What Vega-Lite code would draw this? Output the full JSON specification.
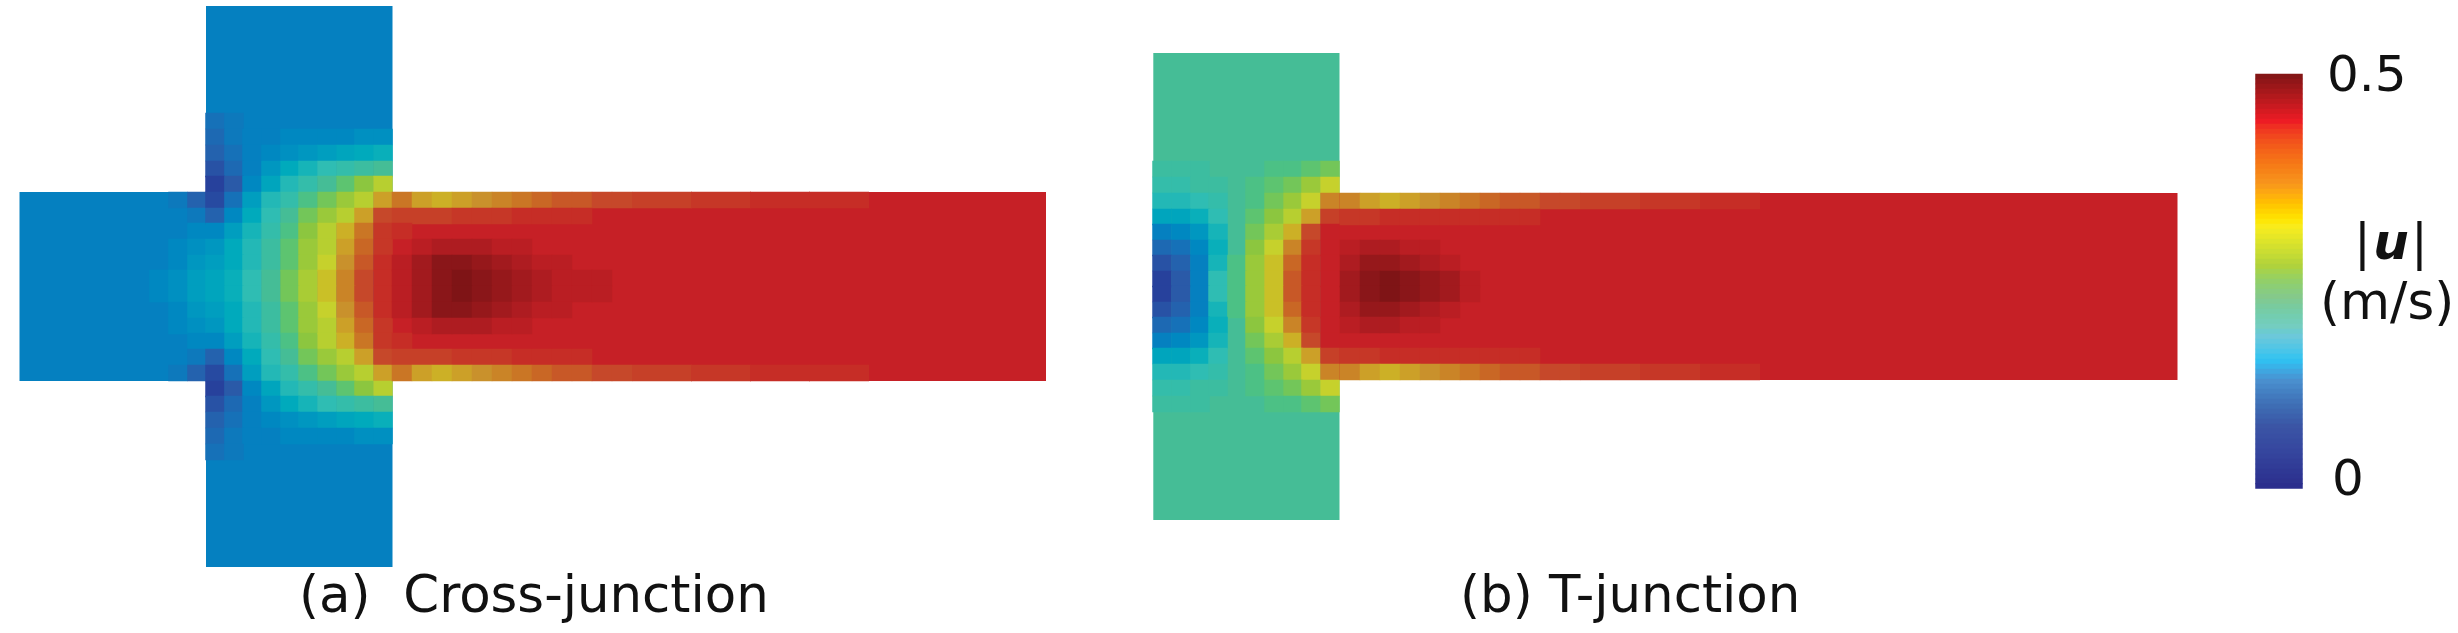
{"$schema":"https://vega.github.io/schema/vega-lite/v6.json","width":2458,"height":633,"padding":0,"autosize":{"type":"none"},"background":"white","config":{"view":{"stroke":null}},
"datasets":{
"base":[{"x":206,"x2":392.5,"y":6,"y2":567,"v":10},{"x":19.5,"x2":206.5,"y":192,"y2":381,"v":10},{"x":392,"x2":1046,"y":192,"y2":381,"v":44},{"x":1153.3,"x2":1339.5,"y":53,"y2":520,"v":23},{"x":1339,"x2":2177.5,"y":193,"y2":380,"v":44}],
"j":[
{"x":178,"y":200,"v":9},{"x":197,"y":200,"v":6},
{"x":197,"y":216,"v":9},{"x":197,"y":231,"v":11},{"x":178,"y":247,"v":11},{"x":197,"y":247,"v":12},{"x":178,"y":263,"v":11},{"x":197,"y":263,"v":13},{"x":159,"y":278,"v":11},{"x":178,"y":278,"v":12},{"x":197,"y":278,"v":14},
{"x":159,"y":294,"v":11},{"x":178,"y":294,"v":12},{"x":197,"y":294,"v":14},{"x":178,"y":310,"v":11},{"x":197,"y":310,"v":13},{"x":178,"y":326,"v":11},{"x":197,"y":326,"v":12},{"x":197,"y":341,"v":11},{"x":197,"y":357,"v":9},{"x":178,"y":373,"v":9},{"x":197,"y":373,"v":6},
{"x":215,"y":121,"v":8},{"x":234,"y":121,"v":9},
{"x":215,"y":137,"v":7},{"x":234,"y":137,"v":9},{"x":252,"y":137,"v":10},{"x":271,"y":137,"v":10},{"x":290,"y":137,"v":11},{"x":308,"y":137,"v":11},{"x":327,"y":137,"v":11},{"x":346,"y":137,"v":11},{"x":364,"y":137,"v":12},{"x":383,"y":137,"v":12},
{"x":215,"y":153,"v":6},{"x":234,"y":153,"v":8},{"x":252,"y":153,"v":10},{"x":271,"y":153,"v":11},{"x":290,"y":153,"v":12},{"x":308,"y":153,"v":13},{"x":327,"y":153,"v":14},{"x":346,"y":153,"v":15},{"x":364,"y":153,"v":16},{"x":383,"y":153,"v":17},
{"x":215,"y":169,"v":4},{"x":234,"y":169,"v":7},{"x":252,"y":169,"v":10},{"x":271,"y":169,"v":13},{"x":290,"y":169,"v":16},{"x":308,"y":169,"v":18},{"x":327,"y":169,"v":20},{"x":346,"y":169,"v":21},{"x":364,"y":169,"v":22},{"x":383,"y":169,"v":23},
{"x":215,"y":184,"v":2},{"x":234,"y":184,"v":5},{"x":252,"y":184,"v":11},{"x":271,"y":184,"v":15},{"x":290,"y":184,"v":19},{"x":308,"y":184,"v":21},{"x":327,"y":184,"v":23},{"x":346,"y":184,"v":25},{"x":364,"y":184,"v":27},{"x":383,"y":184,"v":30},
{"x":215,"y":200,"v":3},{"x":234,"y":200,"v":8},{"x":252,"y":200,"v":14},{"x":271,"y":200,"v":19},{"x":290,"y":200,"v":21},{"x":308,"y":200,"v":24},{"x":327,"y":200,"v":26},{"x":346,"y":200,"v":28},{"x":364,"y":200,"v":30},{"x":383,"y":200,"v":34},
{"x":215,"y":216,"v":6},{"x":234,"y":216,"v":11},{"x":252,"y":216,"v":16},{"x":271,"y":216,"v":20},{"x":290,"y":216,"v":23},{"x":308,"y":216,"v":26},{"x":327,"y":216,"v":28},{"x":346,"y":216,"v":30},{"x":364,"y":216,"v":34},{"x":383,"y":216,"v":40},
{"x":215,"y":231,"v":11},{"x":234,"y":231,"v":14},{"x":252,"y":231,"v":18},{"x":271,"y":231,"v":21},{"x":290,"y":231,"v":24},{"x":308,"y":231,"v":27},{"x":327,"y":231,"v":30},{"x":346,"y":231,"v":33},{"x":364,"y":231,"v":37},{"x":383,"y":231,"v":42},
{"x":215,"y":247,"v":13},{"x":234,"y":247,"v":16},{"x":252,"y":247,"v":19},{"x":271,"y":247,"v":22},{"x":290,"y":247,"v":25},{"x":308,"y":247,"v":28},{"x":327,"y":247,"v":30},{"x":346,"y":247,"v":34},{"x":364,"y":247,"v":38},{"x":383,"y":247,"v":42},
{"x":215,"y":263,"v":14},{"x":234,"y":263,"v":16},{"x":252,"y":263,"v":19},{"x":271,"y":263,"v":22},{"x":290,"y":263,"v":25},{"x":308,"y":263,"v":28},{"x":327,"y":263,"v":31},{"x":346,"y":263,"v":35},{"x":364,"y":263,"v":39},{"x":383,"y":263,"v":43},
{"x":215,"y":278,"v":15},{"x":234,"y":278,"v":17},{"x":252,"y":278,"v":20},{"x":271,"y":278,"v":23},{"x":290,"y":278,"v":26},{"x":308,"y":278,"v":29},{"x":327,"y":278,"v":32},{"x":346,"y":278,"v":36},{"x":364,"y":278,"v":40},{"x":383,"y":278,"v":43},
{"x":215,"y":294,"v":15},{"x":234,"y":294,"v":17},{"x":252,"y":294,"v":20},{"x":271,"y":294,"v":23},{"x":290,"y":294,"v":26},{"x":308,"y":294,"v":29},{"x":327,"y":294,"v":32},{"x":346,"y":294,"v":36},{"x":364,"y":294,"v":40},{"x":383,"y":294,"v":43},
{"x":215,"y":310,"v":14},{"x":234,"y":310,"v":16},{"x":252,"y":310,"v":19},{"x":271,"y":310,"v":22},{"x":290,"y":310,"v":25},{"x":308,"y":310,"v":28},{"x":327,"y":310,"v":31},{"x":346,"y":310,"v":35},{"x":364,"y":310,"v":39},{"x":383,"y":310,"v":43},
{"x":215,"y":326,"v":13},{"x":234,"y":326,"v":16},{"x":252,"y":326,"v":19},{"x":271,"y":326,"v":22},{"x":290,"y":326,"v":25},{"x":308,"y":326,"v":28},{"x":327,"y":326,"v":30},{"x":346,"y":326,"v":34},{"x":364,"y":326,"v":38},{"x":383,"y":326,"v":42},
{"x":215,"y":341,"v":11},{"x":234,"y":341,"v":14},{"x":252,"y":341,"v":18},{"x":271,"y":341,"v":21},{"x":290,"y":341,"v":24},{"x":308,"y":341,"v":27},{"x":327,"y":341,"v":30},{"x":346,"y":341,"v":33},{"x":364,"y":341,"v":37},{"x":383,"y":341,"v":42},
{"x":215,"y":357,"v":6},{"x":234,"y":357,"v":11},{"x":252,"y":357,"v":16},{"x":271,"y":357,"v":20},{"x":290,"y":357,"v":23},{"x":308,"y":357,"v":26},{"x":327,"y":357,"v":28},{"x":346,"y":357,"v":30},{"x":364,"y":357,"v":34},{"x":383,"y":357,"v":40},
{"x":215,"y":373,"v":3},{"x":234,"y":373,"v":8},{"x":252,"y":373,"v":14},{"x":271,"y":373,"v":19},{"x":290,"y":373,"v":21},{"x":308,"y":373,"v":24},{"x":327,"y":373,"v":26},{"x":346,"y":373,"v":28},{"x":364,"y":373,"v":30},{"x":383,"y":373,"v":34},
{"x":215,"y":389,"v":2},{"x":234,"y":389,"v":5},{"x":252,"y":389,"v":11},{"x":271,"y":389,"v":15},{"x":290,"y":389,"v":19},{"x":308,"y":389,"v":21},{"x":327,"y":389,"v":23},{"x":346,"y":389,"v":25},{"x":364,"y":389,"v":27},{"x":383,"y":389,"v":30},
{"x":215,"y":404,"v":4},{"x":234,"y":404,"v":7},{"x":252,"y":404,"v":10},{"x":271,"y":404,"v":13},{"x":290,"y":404,"v":16},{"x":308,"y":404,"v":18},{"x":327,"y":404,"v":20},{"x":346,"y":404,"v":21},{"x":364,"y":404,"v":22},{"x":383,"y":404,"v":23},
{"x":215,"y":420,"v":6},{"x":234,"y":420,"v":8},{"x":252,"y":420,"v":10},{"x":271,"y":420,"v":11},{"x":290,"y":420,"v":12},{"x":308,"y":420,"v":13},{"x":327,"y":420,"v":14},{"x":346,"y":420,"v":15},{"x":364,"y":420,"v":16},{"x":383,"y":420,"v":17},
{"x":215,"y":436,"v":7},{"x":234,"y":436,"v":9},{"x":252,"y":436,"v":10},{"x":271,"y":436,"v":10},{"x":290,"y":436,"v":11},{"x":308,"y":436,"v":11},{"x":327,"y":436,"v":11},{"x":346,"y":436,"v":11},{"x":364,"y":436,"v":12},{"x":383,"y":436,"v":12},
{"x":215,"y":452,"v":8},{"x":234,"y":452,"v":9},
{"x":1162,"y":169,"v":22},{"x":1181,"y":169,"v":22},{"x":1200,"y":169,"v":22},{"x":1274,"y":169,"v":24},{"x":1293,"y":169,"v":24},{"x":1311,"y":169,"v":25},{"x":1330,"y":169,"v":26},
{"x":1162,"y":185,"v":21},{"x":1181,"y":185,"v":21},{"x":1200,"y":185,"v":22},{"x":1218,"y":185,"v":22},{"x":1255,"y":185,"v":24},{"x":1274,"y":185,"v":25},{"x":1293,"y":185,"v":26},{"x":1311,"y":185,"v":28},{"x":1330,"y":185,"v":31},
{"x":1162,"y":201,"v":19},{"x":1181,"y":201,"v":19},{"x":1200,"y":201,"v":20},{"x":1218,"y":201,"v":21},{"x":1255,"y":201,"v":24},{"x":1274,"y":201,"v":26},{"x":1293,"y":201,"v":28},{"x":1311,"y":201,"v":31},{"x":1330,"y":201,"v":36},
{"x":1162,"y":217,"v":15},{"x":1181,"y":217,"v":15},{"x":1200,"y":217,"v":17},{"x":1218,"y":217,"v":20},{"x":1255,"y":217,"v":25},{"x":1274,"y":217,"v":27},{"x":1293,"y":217,"v":30},{"x":1311,"y":217,"v":34},{"x":1330,"y":217,"v":41},
{"x":1162,"y":232,"v":10},{"x":1181,"y":232,"v":11},{"x":1200,"y":232,"v":13},{"x":1218,"y":232,"v":18},{"x":1255,"y":232,"v":26},{"x":1274,"y":232,"v":29},{"x":1293,"y":232,"v":33},{"x":1311,"y":232,"v":40},{"x":1330,"y":232,"v":44},
{"x":1162,"y":248,"v":7},{"x":1181,"y":248,"v":8},{"x":1200,"y":248,"v":11},{"x":1218,"y":248,"v":17},{"x":1255,"y":248,"v":27},{"x":1274,"y":248,"v":31},{"x":1293,"y":248,"v":36},{"x":1311,"y":248,"v":42},{"x":1330,"y":248,"v":44},
{"x":1162,"y":263,"v":4},{"x":1181,"y":263,"v":6},{"x":1200,"y":263,"v":10},{"x":1218,"y":263,"v":18},{"x":1237,"y":263,"v":24},{"x":1255,"y":263,"v":28},{"x":1274,"y":263,"v":32},{"x":1293,"y":263,"v":38},{"x":1311,"y":263,"v":43},{"x":1330,"y":263,"v":44},
{"x":1162,"y":279,"v":2},{"x":1181,"y":279,"v":5},{"x":1200,"y":279,"v":10},{"x":1218,"y":279,"v":20},{"x":1237,"y":279,"v":24},{"x":1255,"y":279,"v":28},{"x":1274,"y":279,"v":32},{"x":1293,"y":279,"v":39},{"x":1311,"y":279,"v":43},{"x":1330,"y":279,"v":44},
{"x":1162,"y":294,"v":2},{"x":1181,"y":294,"v":5},{"x":1200,"y":294,"v":10},{"x":1218,"y":294,"v":20},{"x":1237,"y":294,"v":24},{"x":1255,"y":294,"v":28},{"x":1274,"y":294,"v":32},{"x":1293,"y":294,"v":39},{"x":1311,"y":294,"v":43},{"x":1330,"y":294,"v":44},
{"x":1162,"y":310,"v":4},{"x":1181,"y":310,"v":6},{"x":1200,"y":310,"v":10},{"x":1218,"y":310,"v":18},{"x":1237,"y":310,"v":24},{"x":1255,"y":310,"v":28},{"x":1274,"y":310,"v":32},{"x":1293,"y":310,"v":38},{"x":1311,"y":310,"v":43},{"x":1330,"y":310,"v":44},
{"x":1162,"y":325,"v":7},{"x":1181,"y":325,"v":8},{"x":1200,"y":325,"v":11},{"x":1218,"y":325,"v":17},{"x":1255,"y":325,"v":27},{"x":1274,"y":325,"v":31},{"x":1293,"y":325,"v":36},{"x":1311,"y":325,"v":42},{"x":1330,"y":325,"v":44},
{"x":1162,"y":341,"v":10},{"x":1181,"y":341,"v":11},{"x":1200,"y":341,"v":13},{"x":1218,"y":341,"v":18},{"x":1255,"y":341,"v":26},{"x":1274,"y":341,"v":29},{"x":1293,"y":341,"v":33},{"x":1311,"y":341,"v":40},{"x":1330,"y":341,"v":44},
{"x":1162,"y":356,"v":15},{"x":1181,"y":356,"v":15},{"x":1200,"y":356,"v":17},{"x":1218,"y":356,"v":20},{"x":1255,"y":356,"v":25},{"x":1274,"y":356,"v":27},{"x":1293,"y":356,"v":30},{"x":1311,"y":356,"v":34},{"x":1330,"y":356,"v":41},
{"x":1162,"y":372,"v":19},{"x":1181,"y":372,"v":19},{"x":1200,"y":372,"v":20},{"x":1218,"y":372,"v":21},{"x":1255,"y":372,"v":24},{"x":1274,"y":372,"v":26},{"x":1293,"y":372,"v":28},{"x":1311,"y":372,"v":31},{"x":1330,"y":372,"v":36},
{"x":1162,"y":388,"v":21},{"x":1181,"y":388,"v":21},{"x":1200,"y":388,"v":22},{"x":1218,"y":388,"v":22},{"x":1255,"y":388,"v":24},{"x":1274,"y":388,"v":25},{"x":1293,"y":388,"v":26},{"x":1311,"y":388,"v":28},{"x":1330,"y":388,"v":31},
{"x":1162,"y":404,"v":22},{"x":1181,"y":404,"v":22},{"x":1200,"y":404,"v":22},{"x":1274,"y":404,"v":24},{"x":1293,"y":404,"v":24},{"x":1311,"y":404,"v":25},{"x":1330,"y":404,"v":26}
],
"c":[
{"x":402,"y":200,"v":37},{"x":422,"y":200,"v":34},{"x":442,"y":200,"v":33},{"x":462,"y":200,"v":34},{"x":482,"y":200,"v":35},{"x":502,"y":200,"v":36},{"x":522,"y":200,"v":37},{"x":542,"y":200,"v":38},{"x":562,"y":200,"v":39},{"x":582,"y":200,"v":39},{"x":602,"y":200,"v":40},{"x":622,"y":200,"v":40},
{"x":402,"y":216,"v":41},{"x":422,"y":216,"v":41},{"x":442,"y":216,"v":41},{"x":462,"y":216,"v":42},{"x":482,"y":216,"v":42},{"x":502,"y":216,"v":42},{"x":522,"y":216,"v":43},{"x":542,"y":216,"v":43},{"x":562,"y":216,"v":43},{"x":582,"y":216,"v":43},
{"x":402,"y":231,"v":43},
{"x":422,"y":247,"v":45},{"x":442,"y":247,"v":46},{"x":462,"y":247,"v":46},{"x":482,"y":247,"v":46},{"x":502,"y":247,"v":45},{"x":522,"y":247,"v":45},
{"x":402,"y":263,"v":45},{"x":422,"y":263,"v":47},{"x":442,"y":263,"v":49},{"x":462,"y":263,"v":49},{"x":482,"y":263,"v":48},{"x":502,"y":263,"v":47},{"x":522,"y":263,"v":46},{"x":542,"y":263,"v":45},{"x":562,"y":263,"v":45},
{"x":402,"y":278,"v":45},{"x":422,"y":278,"v":47},{"x":442,"y":278,"v":49},{"x":462,"y":278,"v":50},{"x":482,"y":278,"v":49},{"x":502,"y":278,"v":48},{"x":522,"y":278,"v":47},{"x":542,"y":278,"v":46},{"x":562,"y":278,"v":45},{"x":582,"y":278,"v":45},{"x":602,"y":278,"v":45},
{"x":402,"y":294,"v":45},{"x":422,"y":294,"v":47},{"x":442,"y":294,"v":49},{"x":462,"y":294,"v":50},{"x":482,"y":294,"v":49},{"x":502,"y":294,"v":48},{"x":522,"y":294,"v":47},{"x":542,"y":294,"v":46},{"x":562,"y":294,"v":45},{"x":582,"y":294,"v":45},{"x":602,"y":294,"v":45},
{"x":402,"y":310,"v":45},{"x":422,"y":310,"v":47},{"x":442,"y":310,"v":49},{"x":462,"y":310,"v":49},{"x":482,"y":310,"v":48},{"x":502,"y":310,"v":47},{"x":522,"y":310,"v":46},{"x":542,"y":310,"v":45},{"x":562,"y":310,"v":45},
{"x":422,"y":326,"v":45},{"x":442,"y":326,"v":46},{"x":462,"y":326,"v":46},{"x":482,"y":326,"v":46},{"x":502,"y":326,"v":45},{"x":522,"y":326,"v":45},
{"x":402,"y":341,"v":43},
{"x":402,"y":357,"v":41},{"x":422,"y":357,"v":41},{"x":442,"y":357,"v":41},{"x":462,"y":357,"v":42},{"x":482,"y":357,"v":42},{"x":502,"y":357,"v":42},{"x":522,"y":357,"v":43},{"x":542,"y":357,"v":43},{"x":562,"y":357,"v":43},{"x":582,"y":357,"v":43},
{"x":402,"y":373,"v":37},{"x":422,"y":373,"v":34},{"x":442,"y":373,"v":33},{"x":462,"y":373,"v":34},{"x":482,"y":373,"v":35},{"x":502,"y":373,"v":36},{"x":522,"y":373,"v":37},{"x":542,"y":373,"v":38},{"x":562,"y":373,"v":39},{"x":582,"y":373,"v":39},{"x":602,"y":373,"v":40},{"x":622,"y":373,"v":40},
{"x":1350,"y":201,"v":36},{"x":1370,"y":201,"v":34},{"x":1390,"y":201,"v":33},{"x":1410,"y":201,"v":34},{"x":1430,"y":201,"v":35},{"x":1450,"y":201,"v":36},{"x":1470,"y":201,"v":37},{"x":1490,"y":201,"v":38},{"x":1510,"y":201,"v":39},{"x":1530,"y":201,"v":39},{"x":1550,"y":201,"v":40},{"x":1570,"y":201,"v":40},
{"x":1350,"y":217,"v":42},{"x":1370,"y":217,"v":42},{"x":1390,"y":217,"v":43},{"x":1410,"y":217,"v":43},{"x":1430,"y":217,"v":43},{"x":1450,"y":217,"v":43},{"x":1470,"y":217,"v":43},{"x":1490,"y":217,"v":43},{"x":1510,"y":217,"v":43},{"x":1530,"y":217,"v":43},
{"x":1350,"y":248,"v":45},{"x":1370,"y":248,"v":46},{"x":1390,"y":248,"v":46},{"x":1410,"y":248,"v":45},{"x":1430,"y":248,"v":45},
{"x":1350,"y":263,"v":46},{"x":1370,"y":263,"v":48},{"x":1390,"y":263,"v":48},{"x":1410,"y":263,"v":47},{"x":1430,"y":263,"v":46},{"x":1450,"y":263,"v":45},
{"x":1350,"y":279,"v":47},{"x":1370,"y":279,"v":49},{"x":1390,"y":279,"v":50},{"x":1410,"y":279,"v":49},{"x":1430,"y":279,"v":48},{"x":1450,"y":279,"v":47},{"x":1470,"y":279,"v":45},
{"x":1350,"y":294,"v":47},{"x":1370,"y":294,"v":49},{"x":1390,"y":294,"v":50},{"x":1410,"y":294,"v":49},{"x":1430,"y":294,"v":48},{"x":1450,"y":294,"v":47},{"x":1470,"y":294,"v":45},
{"x":1350,"y":310,"v":46},{"x":1370,"y":310,"v":48},{"x":1390,"y":310,"v":48},{"x":1410,"y":310,"v":47},{"x":1430,"y":310,"v":46},{"x":1450,"y":310,"v":45},
{"x":1350,"y":325,"v":45},{"x":1370,"y":325,"v":46},{"x":1390,"y":325,"v":46},{"x":1410,"y":325,"v":45},{"x":1430,"y":325,"v":45},
{"x":1350,"y":356,"v":42},{"x":1370,"y":356,"v":42},{"x":1390,"y":356,"v":43},{"x":1410,"y":356,"v":43},{"x":1430,"y":356,"v":43},{"x":1450,"y":356,"v":43},{"x":1470,"y":356,"v":43},{"x":1490,"y":356,"v":43},{"x":1510,"y":356,"v":43},{"x":1530,"y":356,"v":43},
{"x":1350,"y":372,"v":36},{"x":1370,"y":372,"v":34},{"x":1390,"y":372,"v":33},{"x":1410,"y":372,"v":34},{"x":1430,"y":372,"v":35},{"x":1450,"y":372,"v":36},{"x":1470,"y":372,"v":37},{"x":1490,"y":372,"v":38},{"x":1510,"y":372,"v":39},{"x":1530,"y":372,"v":39},{"x":1550,"y":372,"v":40},{"x":1570,"y":372,"v":40}
],
"k":[
{"x":662,"y":200,"v":41},{"x":721,"y":200,"v":42},{"x":780,"y":200,"v":43},{"x":839,"y":200,"v":43},
{"x":662,"y":373,"v":41},{"x":721,"y":373,"v":42},{"x":780,"y":373,"v":43},{"x":839,"y":373,"v":43},
{"x":1610,"y":201,"v":41},{"x":1670,"y":201,"v":42},{"x":1730,"y":201,"v":43},
{"x":1610,"y":372,"v":41},{"x":1670,"y":372,"v":42},{"x":1730,"y":372,"v":43}
],
"bar":[
{"x":2279,"y":76.5,"v":49.7},{"x":2279,"y":81.5,"v":49.1},{"x":2279,"y":86.5,"v":48.5},{"x":2279,"y":91.5,"v":47.9},{"x":2279,"y":96.5,"v":47.3},{"x":2279,"y":101.5,"v":46.7},{"x":2279,"y":106.5,"v":46.1},{"x":2279,"y":111.5,"v":45.5},{"x":2279,"y":116.5,"v":44.9},{"x":2279,"y":121.5,"v":44.3},
{"x":2279,"y":126.5,"v":43.7},{"x":2279,"y":131.5,"v":43.1},{"x":2279,"y":136.5,"v":42.5},{"x":2279,"y":141.5,"v":41.8},{"x":2279,"y":146.5,"v":41.2},{"x":2279,"y":151.5,"v":40.6},{"x":2279,"y":156.5,"v":40},{"x":2279,"y":161.5,"v":39.4},{"x":2279,"y":166.5,"v":38.8},{"x":2279,"y":171.5,"v":38.2},
{"x":2279,"y":176.5,"v":37.6},{"x":2279,"y":181.5,"v":37},{"x":2279,"y":186.5,"v":36.4},{"x":2279,"y":191.5,"v":35.8},{"x":2279,"y":196.5,"v":35.2},{"x":2279,"y":201.5,"v":34.6},{"x":2279,"y":206.5,"v":34},{"x":2279,"y":211.5,"v":33.4},{"x":2279,"y":216.5,"v":32.8},{"x":2279,"y":221.5,"v":32.2},
{"x":2279,"y":226.5,"v":31.6},{"x":2279,"y":231.5,"v":31},{"x":2279,"y":236.5,"v":30.4},{"x":2279,"y":241.5,"v":29.8},{"x":2279,"y":246.5,"v":29.2},{"x":2279,"y":251.5,"v":28.6},{"x":2279,"y":256.5,"v":28},{"x":2279,"y":261.5,"v":27.3},{"x":2279,"y":266.5,"v":26.7},{"x":2279,"y":271.5,"v":26.1},
{"x":2279,"y":276.5,"v":25.5},{"x":2279,"y":281.5,"v":24.9},{"x":2279,"y":286.5,"v":24.3},{"x":2279,"y":291.5,"v":23.7},{"x":2279,"y":296.5,"v":23.1},{"x":2279,"y":301.5,"v":22.5},{"x":2279,"y":306.5,"v":21.9},{"x":2279,"y":311.5,"v":21.3},{"x":2279,"y":316.5,"v":20.7},{"x":2279,"y":321.5,"v":20.1},
{"x":2279,"y":326.5,"v":19.5},{"x":2279,"y":331.5,"v":18.9},{"x":2279,"y":336.5,"v":18.3},{"x":2279,"y":341.5,"v":17.7},{"x":2279,"y":346.5,"v":17.1},{"x":2279,"y":351.5,"v":16.5},{"x":2279,"y":356.5,"v":15.9},{"x":2279,"y":361.5,"v":15.3},{"x":2279,"y":366.5,"v":14.7},{"x":2279,"y":371.5,"v":14.1},
{"x":2279,"y":376.5,"v":13.5},{"x":2279,"y":381.5,"v":12.9},{"x":2279,"y":386.5,"v":12.3},{"x":2279,"y":391.5,"v":11.6},{"x":2279,"y":396.5,"v":11},{"x":2279,"y":401.5,"v":10.4},{"x":2279,"y":406.5,"v":9.8},{"x":2279,"y":411.5,"v":9.2},{"x":2279,"y":416.5,"v":8.6},{"x":2279,"y":421.5,"v":8},
{"x":2279,"y":426.5,"v":7.4},{"x":2279,"y":431.5,"v":6.8},{"x":2279,"y":436.5,"v":6.2},{"x":2279,"y":441.5,"v":5.6},{"x":2279,"y":446.5,"v":5},{"x":2279,"y":451.5,"v":4.4},{"x":2279,"y":456.5,"v":3.8},{"x":2279,"y":461.5,"v":3.2},{"x":2279,"y":466.5,"v":2.6},{"x":2279,"y":471.5,"v":2},
{"x":2279,"y":476.5,"v":1.4},{"x":2279,"y":481.5,"v":0.8},{"x":2279,"y":486,"v":0.2}
],
"txt":[{"t":"(a)\u00a0\u00a0Cross-junction","x":299,"y":612},{"t":"(b) T-junction","x":1460,"y":612},{"t":"(m/s)","x":2320,"y":319}],
"txt2":[{"t":"0.5","x":2327,"y":91},{"t":"0","x":2332,"y":495},{"t":"|","x":2354,"y":259},{"t":"|","x":2411,"y":259}],
"uu":[{"t":"u","x":2391,"y":259}]
},
"encoding":{"x":{"field":"x","type":"quantitative","axis":null,"scale":{"domain":[0,2458],"nice":false,"zero":false}},"y":{"field":"y","type":"quantitative","axis":null,"scale":{"domain":[633,0],"nice":false,"zero":false}}},
"layer":[
{"data":{"name":"base"},"mark":{"type":"rect"},"encoding":{"x2":{"field":"x2"},"y2":{"field":"y2"},"color":{"field":"v","type":"quantitative","legend":null,"scale":{"domain":[0,5,10,15,20,23,27,31,35,40,44,50],"range":["#2b2f92","#2a5aa8","#0580c0","#00a5bd","#2fbdb3","#45bd96","#8cc63f","#c6d12c","#c9912c","#c6482a","#c62026","#7f1416"]}}}},
{"data":{"name":"j"},"mark":{"type":"rect","width":19.5,"height":16.5},"encoding":{"color":{"field":"v","type":"quantitative","legend":null}}},
{"data":{"name":"c"},"mark":{"type":"rect","width":20.5,"height":16.5},"encoding":{"color":{"field":"v","type":"quantitative","legend":null}}},
{"data":{"name":"k"},"mark":{"type":"rect","width":60,"height":16.5},"encoding":{"color":{"field":"v","type":"quantitative","legend":null}}},
{"data":{"name":"bar"},"mark":{"type":"rect","width":47.5,"height":5.6},"encoding":{"fill":{"field":"v","type":"quantitative","legend":null,"scale":{"domain":[0,4.6,7.4,10,13,15.5,18.3,19.5,23.1,26.75,31.4,32.4,36.8,44.3,50],"range":["#2b2d8c","#36479f","#3b55a5","#3f6fb5","#4a90cf","#2fc3f2","#6cc8da","#74cdc0","#85c98a","#b0d23c","#f7ec1f","#ffe600","#f7941d","#ed1c24","#7f1515"]}}}},
{"data":{"name":"txt"},"mark":{"type":"text","align":"left","baseline":"alphabetic","font":"DejaVu Sans","fontSize":51.4,"color":"#111111"},"encoding":{"text":{"field":"t"}}},
{"data":{"name":"txt2"},"mark":{"type":"text","align":"left","baseline":"alphabetic","font":"DejaVu Sans","fontSize":50,"color":"#111111"},"encoding":{"text":{"field":"t"}}},
{"data":{"name":"uu"},"mark":{"type":"text","align":"center","baseline":"alphabetic","font":"DejaVu Sans","fontSize":50,"fontWeight":"bold","fontStyle":"italic","color":"#111111"},"encoding":{"text":{"field":"t"}}}
]}
